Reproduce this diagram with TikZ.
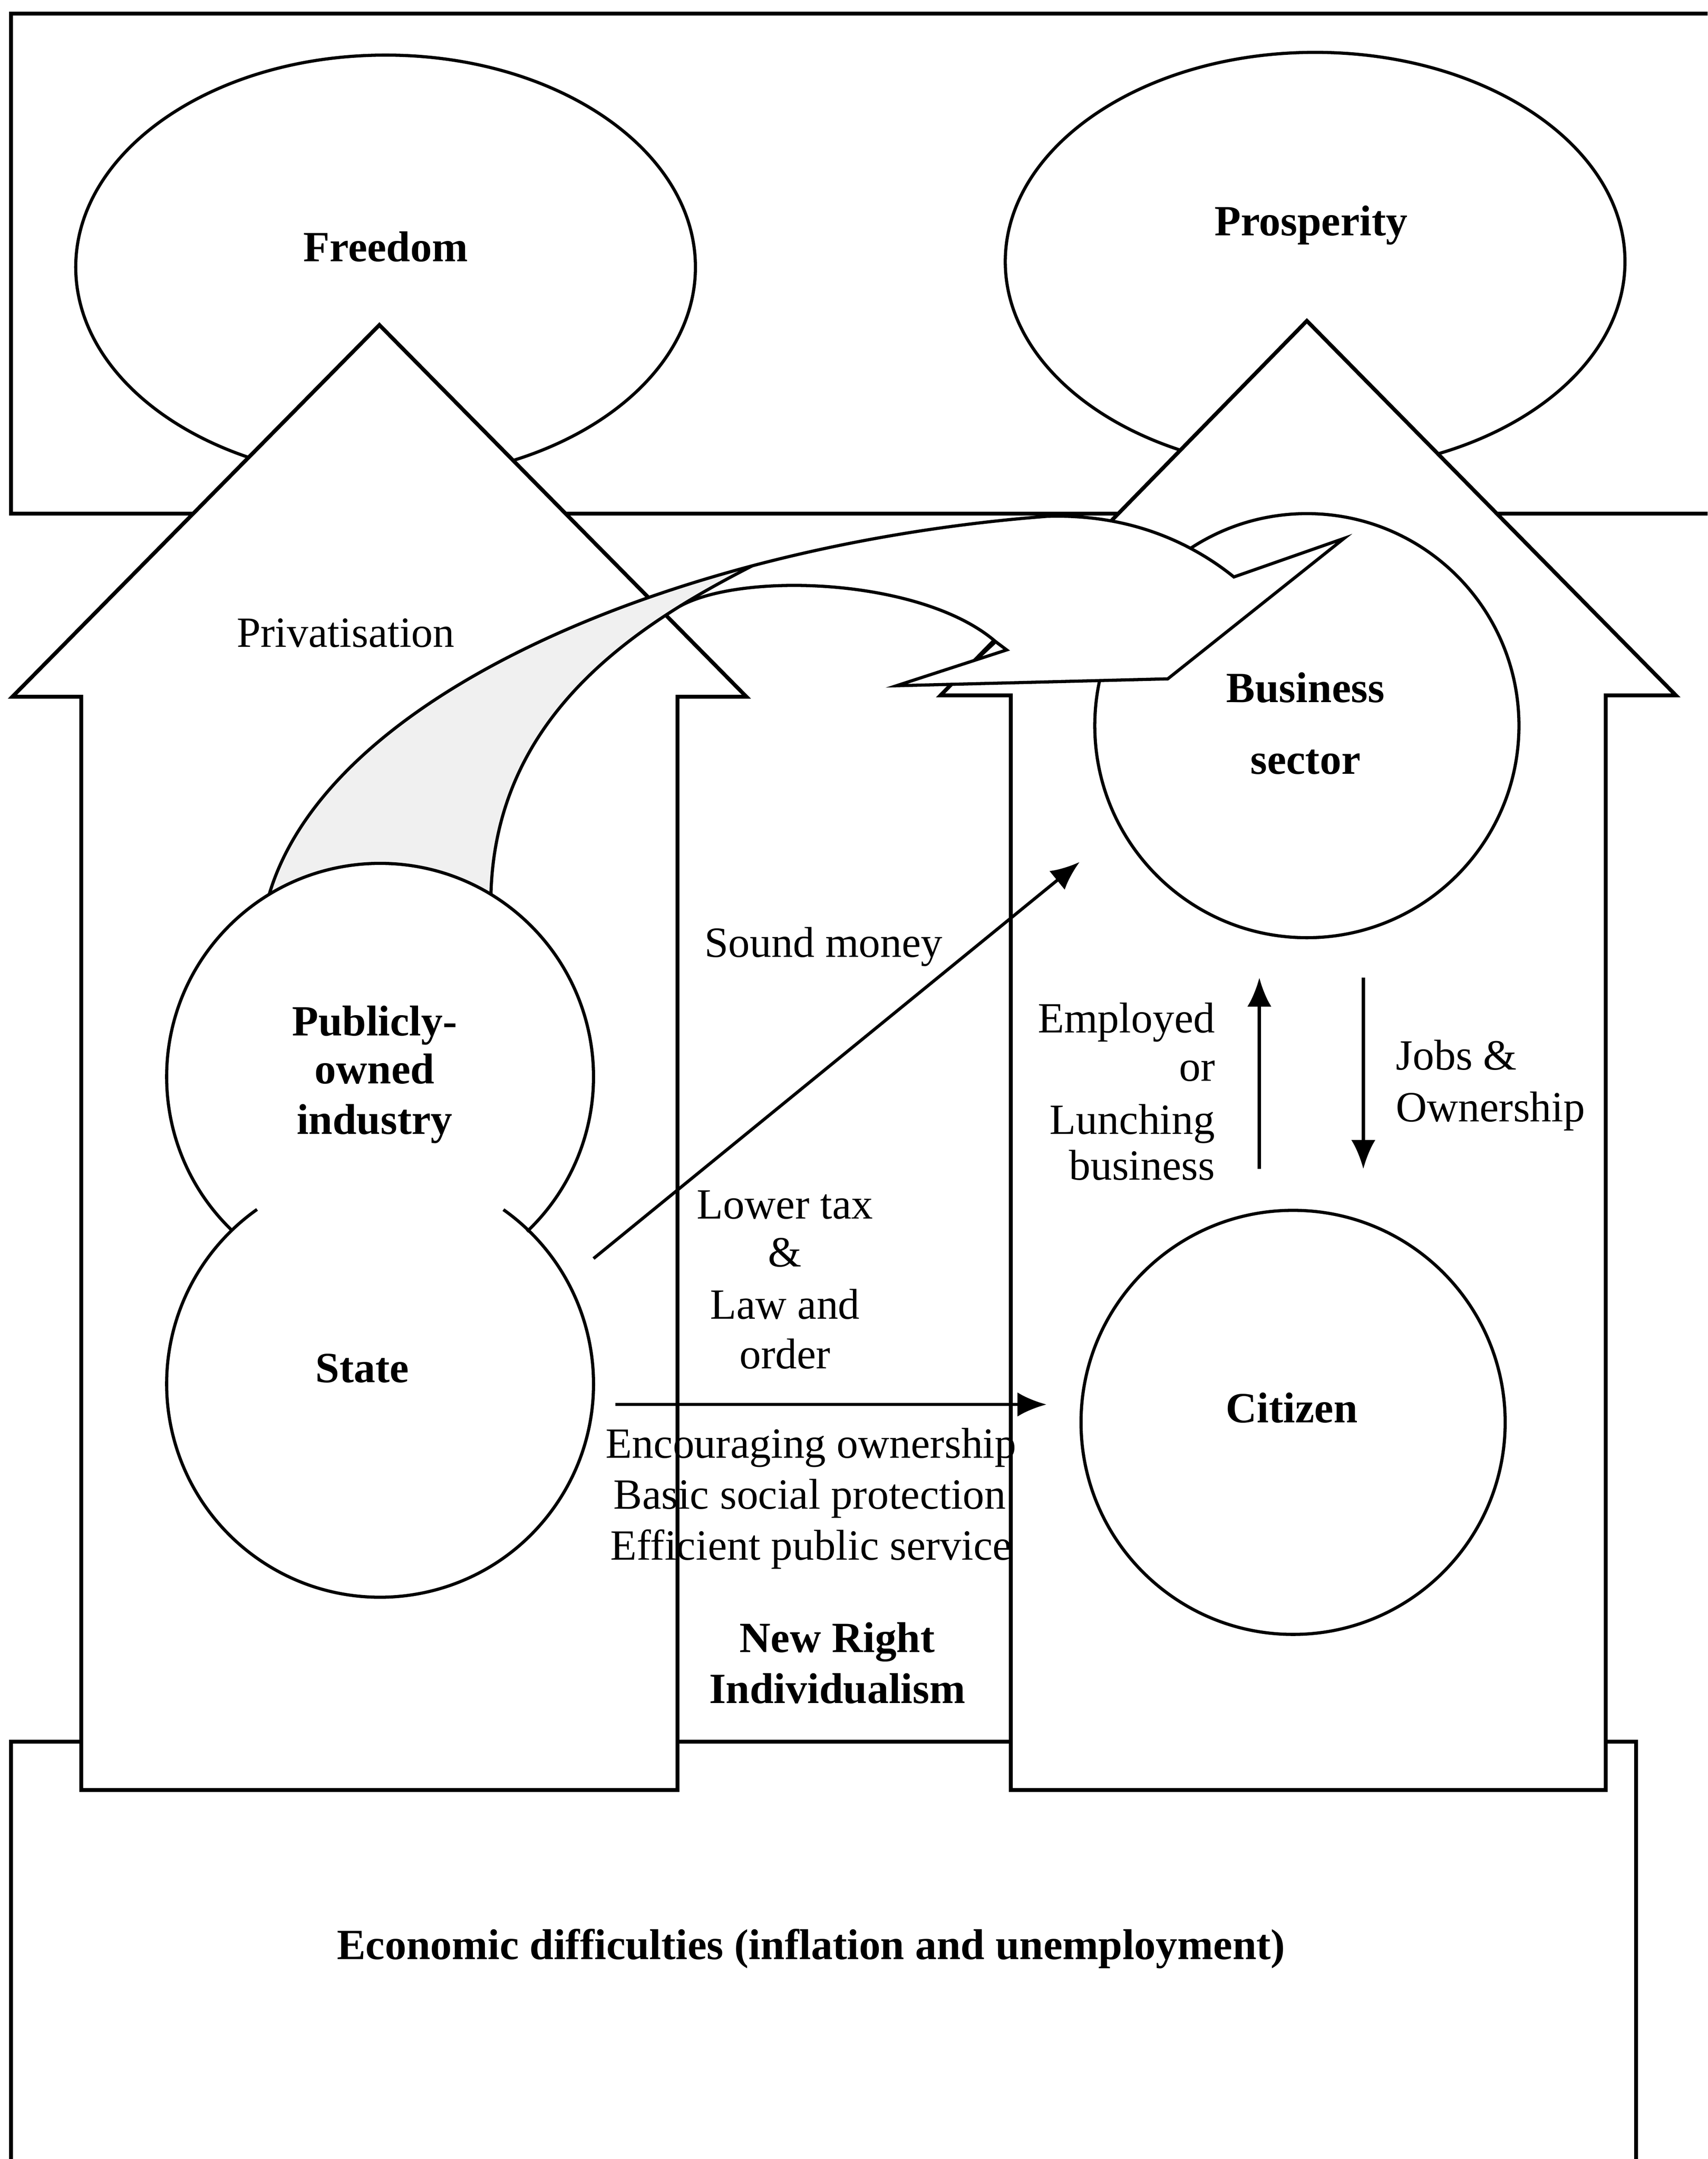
\documentclass[tikz,border=0pt]{standalone}
\usepackage{fontspec}
\setmainfont{Liberation Serif}
\usetikzlibrary{arrows.meta}
\begin{document}
\begin{tikzpicture}[x=0.01cm,y=-0.01cm,
  blk/.style={draw=black, fill=white, line width=0.8pt, line join=miter},
  shp/.style={draw=black, line width=0.65pt},
  frm/.style={draw=black, line width=0.8pt},
  conn/.style={draw=black, line width=0.65pt, -{Latex[length=6pt,width=5pt]}},
  lbl/.style={font=\fontsize{8.9}{10.7}\selectfont, inner sep=0pt, anchor=base},
  lblb/.style={lbl, font=\fontsize{8.9}{10.7}\selectfont\bfseries},
  bandshade/.style={fill=gray!12}
]
\useasboundingbox (0,0) rectangle (1240,1568);
\clip (0,0) rectangle (1240,1568);

% top frame
\draw[frm] (1260,10) -- (8,10) -- (8,373) -- (1260,373);
% goal ellipses
\draw[shp] (280,194) ellipse [x radius=225, y radius=154];
\draw[shp] (955,190) ellipse [x radius=225, y radius=152];
% bottom frame
\draw[frm] (8,1600) -- (8,1265) -- (1188,1265) -- (1188,1600);

% block arrows
\draw[blk] (275.5,236) -- (542,506) -- (492,506) -- (492,1300) -- (59,1300) -- (59,506) -- (9,506) -- cycle;
\draw[blk] (949,233) -- (1217,505) -- (1166,505) -- (1166,1300) -- (734,1300) -- (734,505) -- (683,505) -- cycle;

% business and citizen circles
\draw[shp] (949,527) circle [radius=154];
\draw[shp] (939,1033) circle [radius=154];

% key points of the curved band
\coordinate (S1) at (195.5,649.5);
\coordinate (S2) at (356.5,649.5);
\coordinate (M) at (546.3,410.9);
\coordinate (P) at (760,375);
\coordinate (A) at (896,419);
\coordinate (B) at (976,391);
\coordinate (C) at (848,493);
\coordinate (D) at (651,498);
\coordinate (E) at (731,472);
\coordinate (E2) at (723,466);
\coordinate (B0) at (493.76,440.22);

% white body of the band
\fill[white] (S1) .. controls (227.54,541.86) and (371.3,457.3) .. (M)
  .. controls (614.4,392.9) and (687.2,380.6) .. (P)
  .. controls (820,373) and (865,394) .. (A)
  -- (B) -- (C) -- (D) -- (E) -- (E2)
  .. controls (670,420) and (540,415) .. (B0)
  .. controls (423.86,483.58) and (359.3,545.9) .. (S2)
  arc [start angle=-58.7, end angle=-121.3, radius=155] -- cycle;
% shaded underside
\fill[bandshade] (S1) .. controls (227.54,541.86) and (371.3,457.3) .. (M)
  .. controls (460,455) and (360,520) .. (S2)
  arc [start angle=-58.7, end angle=-121.3, radius=155] -- cycle;
% band outlines
\draw[shp] (S1) .. controls (227.54,541.86) and (371.3,457.3) .. (M)
  .. controls (614.4,392.9) and (687.2,380.6) .. (P)
  .. controls (820,373) and (865,394) .. (A)
  -- (B) -- (C) -- (D) -- (E) -- (E2);
\draw[shp] (S2) .. controls (360,520) and (460,455) .. (M);
\draw[shp] (B0) .. controls (540,415) and (670,420) .. (E2) -- (709,479);

% publicly-owned industry and state
\draw[shp] (276,782) ++(134.2:155) arc [start angle=134.2, end angle=406.5, radius=155];
\draw[shp] (276,1005) ++(-54.7:155) arc [start angle=-54.7, end angle=234.8, radius=155];

% labels
\node[lblb] (freedom) at (280,190) {Freedom};
\node[lblb] (prosp) at (952,171) {Prosperity};
\node[lbl] (priv) at (251,470) {Privatisation};
\node[lblb] (bus1) at (948,510) {Business};
\node[lblb] (bus2) at (948,562) {sector};
\node[lblb] (pub1) at (272,752) {Publicly-};
\node[lblb] (pub2) at (272,787) {owned};
\node[lblb] (pub3) at (272,823.6) {industry};
\node[lblb] (state) at (263,1004) {State};
\node[lblb] (citizen) at (938,1033) {Citizen};
\node[lbl] (sound) at (598,695) {Sound money};
\node[lbl] (tax1) at (570,885) {Lower tax};
\node[lbl] (tax2) at (570,920) {\&};
\node[lbl] (tax3) at (570,958) {Law and};
\node[lbl] (tax4) at (570,994) {order};
\node[lbl] (enc1) at (589,1059) {Encouraging ownership};
\node[lbl] (enc2) at (588,1096) {Basic social protection};
\node[lbl] (enc3) at (589,1133) {Efficient public service};
\node[lblb] (nr1) at (608,1200) {New Right};
\node[lblb] (nr2) at (608,1237) {Individualism};
\node[lbl, anchor=base east] (emp1) at (883,750) {Employed};
\node[lbl, anchor=base east] (emp2) at (883,785) {or};
\node[lbl, anchor=base east] (emp3) at (883,823.6) {Lunching};
\node[lbl, anchor=base east] (emp4) at (883,857) {business};
\node[lbl, anchor=base west] (job1) at (1013,777) {Jobs \&};
\node[lbl, anchor=base west] (job2) at (1013,814.5) {Ownership};
\node[lblb] (econ) at (589,1423) {Economic difficulties (inflation and unemployment)};

% connectors
\coordinate (dA) at (431,914);
\coordinate (dB) at (784,626);
\coordinate (hA) at (447,1020);
\coordinate (hB) at (760,1020);
\coordinate (uA) at (914.5,849);
\coordinate (uB) at (914.5,710);
\coordinate (vA) at (990,710);
\coordinate (vB) at (990,849);
\draw[conn] (dA) -- (dB);
\draw[conn] (hA) -- (hB);
\draw[conn] (uA) -- (uB);
\draw[conn] (vA) -- (vB);
\end{tikzpicture}
\end{document}
